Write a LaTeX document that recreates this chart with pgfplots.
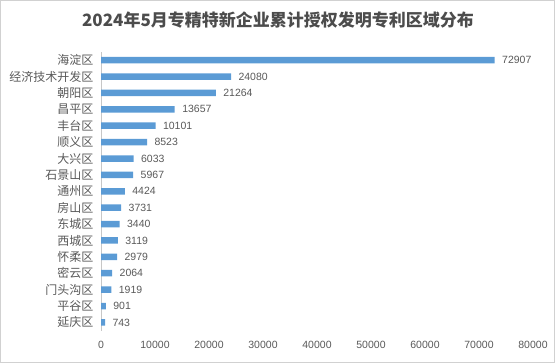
\documentclass[border=0pt]{standalone}
\usepackage{pgfplots}
\pgfplotsset{compat=1.18}
\usepackage{fontspec}
\setmainfont{Liberation Sans}
\newfontfamily\cjk{Noto Sans CJK SC}
\definecolor{barblue}{HTML}{5B9BD5}
\definecolor{txt}{HTML}{595959}
\begin{document}
\begin{tikzpicture}
\useasboundingbox (0,0) rectangle (555bp,363bp);
\draw[color=black!18, line width=1bp] (0.5bp,0.5bp) rectangle (554.5bp,362.5bp);
\node[font=\cjk\bfseries\fontsize{17bp}{20bp}\selectfont, text=txt!85!black] at (278bp,343bp) {2024年5月专精特新企业累计授权发明专利区域分布};
\begin{axis}[
  at={(101bp,32.4bp)}, anchor=south west, scale only axis,
  width=432bp, height=278.6bp,
  xbar, bar width=6.5bp,
  xmin=0, xmax=80000, ymin=-0.5, ymax=16.5, y dir=reverse,
  xtick={0,10000,...,80000},
  ytick={0,...,16},
  yticklabels={海淀区,经济技术开发区,朝阳区,昌平区,丰台区,顺义区,大兴区,石景山区,通州区,房山区,东城区,西城区,怀柔区,密云区,门头沟区,平谷区,延庆区},
  axis lines=left,
  x axis line style={draw=none},
  y axis line style={draw=black!22,-},
  major tick length=0pt,
  scaled x ticks=false,
  /pgf/number format/1000 sep={},
  /pgf/number format/assume math mode=true,
  xticklabel style={font=\fontsize{10.5bp}{12bp}\selectfont, text=txt, yshift=-7bp},
  yticklabel style={font=\cjk\fontsize{12bp}{14bp}\selectfont, text=txt, xshift=-4bp},
  nodes near coords,
  every node near coord/.append style={anchor=west, xshift=4bp, font=\fontsize{10.5bp}{12bp}\selectfont, text=txt},
]
\addplot[fill=barblue, draw=none] coordinates {
(72907,0) (24080,1) (21264,2) (13657,3) (10101,4) (8523,5) (6033,6) (5967,7) (4424,8) (3731,9) (3440,10) (3119,11) (2979,12) (2064,13) (1919,14) (901,15) (743,16)
};
\end{axis}
\end{tikzpicture}
\end{document}
